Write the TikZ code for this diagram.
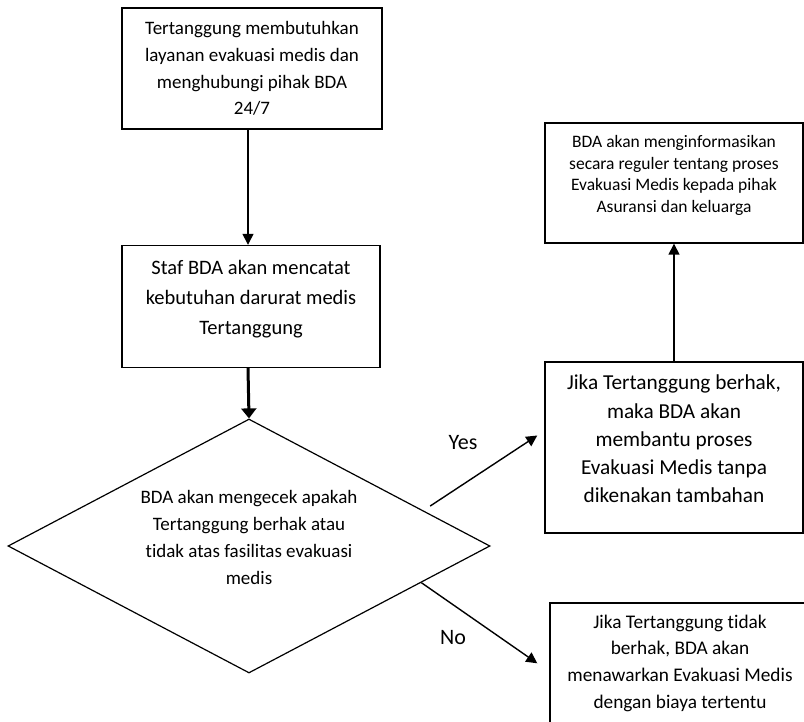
\documentclass[tikz,border=0pt]{standalone}
\usepackage{fontspec}
\setmainfont{Carlito}[Ligatures={TeX,NoCommon}]
\usepackage{tikz}
\usetikzlibrary{shapes, arrows.meta, positioning}
\tikzstyle{process} = [rectangle, minimum width=258pt, inner sep=0pt, align=center, draw=black, line width=1.4pt, fill=white]
\tikzstyle{decision} = [diamond, aspect=1.9, minimum width=482pt, minimum height=254pt, inner sep=0pt, align=center, draw=black, line width=1.2pt]
\tikzstyle{answer} = [inner sep=0pt, font=\fontsize{22}{26}\selectfont]
\tikzstyle{arr} = [line width=1.4pt, -{Triangle[length=11pt, width=11pt]}]
% strut to move the text up inside a box
\newcommand{\pushup}[1]{\rule[-#1]{0pt}{#1}}

\begin{document}
\begin{tikzpicture}[x=1pt, y=1pt, node distance=240pt]
\path[use as bounding box, clip] (0,0) rectangle (804,-722);
\node (need) [process, minimum width=260pt, minimum height=121pt, font=\fontsize{19}{26.7}\selectfont] at (252,-68.5) {Tertanggung membutuhkan\\ layanan evakuasi medis dan\\ menghubungi pihak BDA\\ 24/7};
\node (record) [process, minimum height=122pt, font=\fontsize{20.5}{30}\selectfont, below of=need, xshift=-1pt, yshift=2pt] {Staf BDA akan mencatat\\ kebutuhan darurat medis\\ Tertanggung\pushup{19pt}};
\node (check) [decision, font=\fontsize{19}{27}\selectfont, below of=record, xshift=-2pt, yshift=0.5pt] {BDA akan mengecek apakah\\ Tertanggung berhak atau\\ tidak atas fasilitas evakuasi\\ medis\pushup{18pt}};
\node (eligible) [process, minimum height=171pt, font=\fontsize{21.3}{28.2}\selectfont] at (674,-447.5) {Jika Tertanggung berhak,\\ maka BDA akan\\ membantu proses\\ Evakuasi Medis tanpa\\ dikenakan tambahan\pushup{17pt}};
\node (inform) [process, minimum height=120pt, font=\fontsize{17.5}{21.7}\selectfont, above of=eligible, yshift=24.5pt] {BDA akan menginformasikan\\ secara reguler tentang proses\\ Evakuasi Medis kepada pihak\\ Asuransi dan keluarga\pushup{18pt}};
\node (offer) [process, minimum width=260pt, minimum height=120.6pt, font=\fontsize{19.3}{26.7}\selectfont, below of=eligible, xshift=6pt, yshift=24.2pt] {Jika Tertanggung tidak\\ berhak, BDA akan\\ menawarkan Evakuasi Medis\\ dengan biaya tertentu};
\node (yes) [answer] at (463,-443) {Yes};
\node (no) [answer] at (453,-638) {No};
\draw[arr] ([xshift=-4pt]need.south) -- ([xshift=-3pt]record.north);
\draw[line width=3pt, -{Triangle[length=10pt, width=15pt]}] ([xshift=-3pt]record.south) -- (check.north);
\draw[arr] ([yshift=8pt]check.10) -- ([xshift=-7pt, yshift=12pt]eligible.west);
\draw[arr] (check.-12) -- ([xshift=-12pt]offer.west);
\draw[arr] (eligible.north) -- (inform.south);
\end{tikzpicture}
\end{document}
